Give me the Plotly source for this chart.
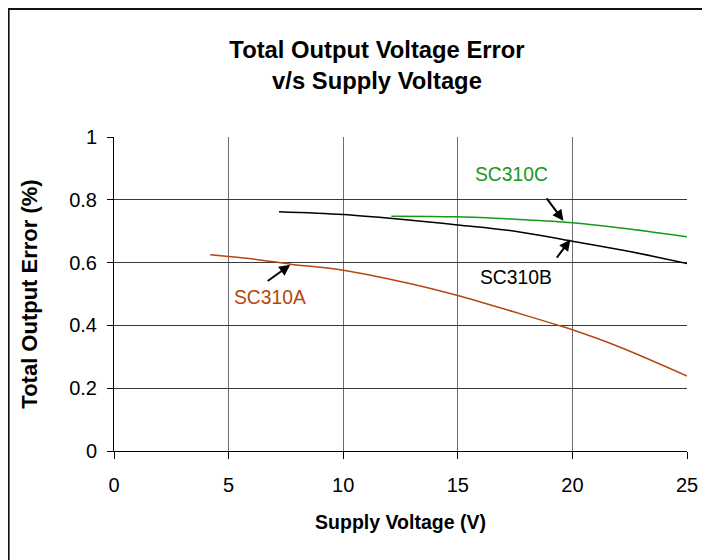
import plotly.graph_objects as go

# ---- data ----
sc310a_x = [4.2, 6.0, 7.7, 10.0, 12.8, 15.0, 17.4, 19.4, 20.0, 22.0, 25.0]
sc310a_y = [0.625, 0.612, 0.595, 0.576, 0.535, 0.495, 0.444, 0.400, 0.386, 0.333, 0.239]

sc310b_x = [7.2, 10.0, 12.5, 15.0, 17.5, 20.0, 22.5, 25.0]
sc310b_y = [0.762, 0.753, 0.738, 0.720, 0.700, 0.668, 0.635, 0.597]

sc310c_x = [12.1, 15.0, 17.5, 20.0, 22.5, 25.0]
sc310c_y = [0.748, 0.746, 0.738, 0.727, 0.707, 0.682]

x_ticks = [0, 5, 10, 15, 20, 25]
y_ticks = [0, 0.2, 0.4, 0.6, 0.8, 1]
y_tick_labels = ["0", "0.2", "0.4", "0.6", "0.8", "1"]

title_text = "Total Output Voltage Error<br>v/s Supply Voltage"
x_title = "Supply Voltage (V)"
y_title = "Total Output Error (%)"

BROWN = "#b5470f"
GREEN = "#169a16"
BLACK = "#000000"
FONT = "Liberation Sans, Arial, sans-serif"

W, H = 702, 552

fig = go.Figure()
for xs, ys, col in [(sc310a_x, sc310a_y, BROWN), (sc310b_x, sc310b_y, BLACK), (sc310c_x, sc310c_y, GREEN)]:
    fig.add_trace(go.Scatter(x=xs, y=ys, mode="lines", line=dict(color=col, width=1.5, shape="spline"),
                             showlegend=False, hoverinfo="skip"))

# labels and arrows
labels = [
    ("SC310C", 17.33, 0.880, GREEN, 19.61, 0.733, 18.83, 0.809),
    ("SC310B", 17.53, 0.551, BLACK, 19.91, 0.673, 19.27, 0.611),
    ("SC310A", 6.82, 0.490, BROWN, 7.69, 0.593, 6.64, 0.538),
]
for txt, tx, ty, col, hx, hy, ax, ay in labels:
    fig.add_annotation(x=tx, y=ty, text=txt, showarrow=False,
                       font=dict(family=FONT, size=19.3, color=col), xanchor="center", yanchor="middle")
    fig.add_annotation(x=hx, y=hy, ax=ax, ay=ay, axref="x", ayref="y", xref="x", yref="y",
                       text="", showarrow=True, arrowhead=2, arrowsize=1.1, arrowwidth=2,
                       arrowcolor="#000000", standoff=0)

# outer frame
fig.add_shape(type="rect", xref="paper", yref="paper",
              x0=-0.1839, x1=1.0366, y0=-0.36, y1=1.408,
              line=dict(color="#111111", width=2), fillcolor="rgba(0,0,0,0)", layer="below")

fig.update_layout(
    width=W, height=H,
    margin=dict(l=106.4, r=22.5, t=129.3, b=109),
    paper_bgcolor="white", plot_bgcolor="white",
    title=dict(text=title_text, x=369 / W, xanchor="center", y=1 - 50 / H, yanchor="middle",
               font=dict(family=FONT, size=23.8, color="black", weight="bold")),
    font=dict(family=FONT, color="black"),
    xaxis=dict(range=[0, 25], tickvals=x_ticks, ticks="outside", ticklen=7, tickcolor="black",
               showline=True, linecolor="black", linewidth=1, mirror=False,
               showgrid=True, gridcolor="#6e6e6e", gridwidth=1, zeroline=False,
               ticklabelstandoff=9,
               tickfont=dict(family=FONT, size=20, color="black"),
               title=dict(text=x_title, font=dict(family=FONT, size=19.5, color="black", weight="bold"), standoff=20)),
    yaxis=dict(range=[0, 1], tickvals=y_ticks, ticktext=y_tick_labels, ticks="outside", ticklen=6, tickcolor="black",
               showline=True, linecolor="black", linewidth=1,
               showgrid=True, gridcolor="#3a3a3a", gridwidth=1, zeroline=False,
               ticklabelstandoff=6,
               tickfont=dict(family=FONT, size=20, color="black"),
               title=dict(text=y_title, font=dict(family=FONT, size=22, color="black", weight="bold"), standoff=25)),
)

fig.write_html("out.html")
